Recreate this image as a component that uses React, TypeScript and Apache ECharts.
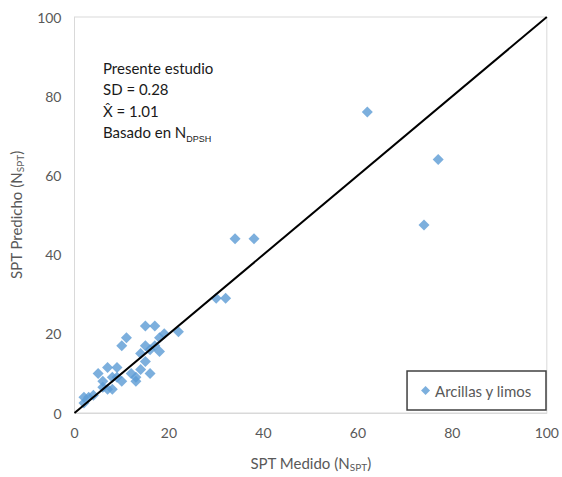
import React, { useEffect, useRef } from "react";
import * as echarts from "echarts";

// Measured vs predicted SPT blow counts (silts and clays)
const spt_medido = [2, 2, 3, 4, 5, 6, 6, 7, 7, 8, 8, 9, 9, 10, 10, 11, 12, 13, 13, 14, 14, 15, 15, 15, 16, 16, 17, 17, 18, 18, 19, 22, 30, 32, 34, 38, 62, 74, 77];
const spt_predicho = [2.5, 4, 4, 4.5, 10, 8, 6.5, 11.5, 6, 6, 9, 11.5, 9, 17, 8, 19, 10, 8, 9, 15, 11, 22, 13, 17, 10, 16, 22, 17, 15.5, 19, 20, 20.5, 29, 29, 44, 44, 76, 47.5, 64];
const refLine = [[0, 0], [100, 100]];
const axisTicks = { min: 0, max: 100, interval: 20 };
const seriesName = "Arcillas y limos";
const notes = ["Presente estudio", "SD = 0.28", "X\u0302 = 1.01"];

const FONT = "Lato, 'Open Sans', sans-serif";

export default function App() {
  const ref = useRef<HTMLDivElement>(null);
  useEffect(() => {
    if (!ref.current) return;
    const chart = echarts.init(ref.current, null, { renderer: "svg" });
    const pts = spt_medido.map((x, i) => [x, spt_predicho[i]]);
    const subStyle = { fontSize: 10, color: "#595959", verticalAlign: "bottom", padding: [8, 0, 0, 0], fontFamily: FONT };
    chart.setOption({
      animation: false,
      backgroundColor: "#ffffff",
      textStyle: { fontFamily: FONT },
      grid: { left: 73, right: 14, top: 17, bottom: 61, show: true, borderColor: "#d9d9d9", borderWidth: 1 },
      xAxis: {
        type: "value",
        ...axisTicks,
        name: "SPT Medido (N{sub|SPT})",
        nameLocation: "middle",
        nameGap: 41,
        nameTextStyle: { color: "#595959", fontSize: 15, fontFamily: FONT, rich: { sub: subStyle } },
        axisLine: { show: true, lineStyle: { color: "#d9d9d9" } },
        axisTick: { show: false },
        splitLine: { show: false },
        axisLabel: { color: "#595959", fontSize: 14, margin: 12, fontFamily: FONT },
      },
      yAxis: {
        type: "value",
        ...axisTicks,
        name: "SPT Predicho (N{sub|SPT})",
        nameLocation: "middle",
        nameGap: 50,
        nameRotate: 90,
        nameTextStyle: { color: "#595959", fontSize: 15, fontFamily: FONT, rich: { sub: subStyle } },
        axisLine: { show: true, lineStyle: { color: "#d9d9d9" } },
        axisTick: { show: false },
        splitLine: { show: false },
        axisLabel: { color: "#595959", fontSize: 14, margin: 13, fontFamily: FONT },
      },
      legend: {
        data: [{ name: seriesName, icon: "diamond" }],
        right: 16,
        bottom: 67,
        orient: "vertical",
        itemWidth: 9,
        itemHeight: 9,
        itemGap: 0,
        padding: [12, 14, 12, 14],
        borderColor: "#404040",
        borderWidth: 1.5,
        borderRadius: 0,
        backgroundColor: "#ffffff",
        textStyle: { color: "#595959", fontSize: 15, fontFamily: FONT },
      },
      graphic: [
        {
          type: "text",
          left: 103,
          top: 57,
          style: {
            text: notes.join("\n") + "\nBasado en N{sub|DPSH}",
            fill: "#1a1a1a",
            font: `15px ${FONT}`,
            lineHeight: 21.5,
            rich: {
              sub: { fontSize: 9, fill: "#1a1a1a", verticalAlign: "bottom", padding: [9, 0, 0, 0], lineHeight: 21.5 },
            },
          },
        },
      ],
      series: [
        {
          type: "line",
          data: refLine,
          symbol: "none",
          silent: true,
          lineStyle: { color: "#000000", width: 2 },
          z: 3,
        },
        {
          name: seriesName,
          type: "scatter",
          data: pts,
          symbol: "diamond",
          symbolSize: 11,
          itemStyle: { color: "#5b9bd5" },
          z: 2,
        },
      ],
    });
    return () => chart.dispose();
  }, []);
  return <div ref={ref} style={{ position: "absolute", left: 0, top: 0, width: 562, height: 477 }} />;
}
